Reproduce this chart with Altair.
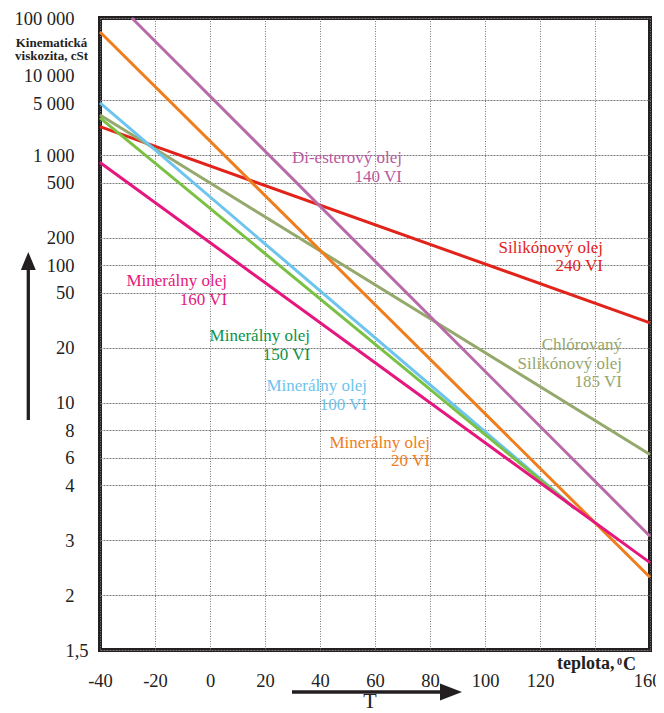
import altair as alt
import pandas as pd

# ---------------- data ----------------
series_names = [
    "Silikónový olej 240 VI",
    "Chlórovaný Silikónový olej 185 VI",
    "Di-esterový olej 140 VI",
    "Minerálny olej 20 VI",
    "Minerálny olej 100 VI",
    "Minerálny olej 150 VI",
    "Minerálny olej 160 VI",
]
series_colors = ["#e2231a", "#95a96c", "#b66aa8", "#f07d1c", "#6dc4ef", "#7ac143", "#e5177e"]
t_start = [-40, -40, -28.4, -40, -40, -40, -40]
v_start = [2320, 3270, 100000, 55600, 4650, 3000, 834]
t_end = [160, 160, 160, 160, 132.7, 132.7, 160]
v_end = [30.3, 6.2, 3.06, 2.28, 3.54, 3.54, 2.54]

label_texts = [
    "Silikónový olej\n240 VI",
    "Chlórovaný\nSilikónový olej\n185 VI",
    "Di-esterový olej\n140 VI",
    "Minerálny olej\n20 VI",
    "Minerálny olej\n100 VI",
    "Minerálny olej\n150 VI",
    "Minerálny olej\n160 VI",
]
label_t = [142.9, 149.8, 69.8, 80, 57.1, 36.4, 6.2]
label_v = [154.8, 20.9, 936, 7.0, 12.3, 24.3, 67.3]
label_colors = ["#e2231a", "#95a66b", "#b9579f", "#ef7d1b", "#6dc4ef", "#0e9247", "#e5177e"]

x_ticks = [-40, -20, 0, 20, 40, 60, 80, 100, 120, 140, 160]
x_tick_labels = ["-40", "-20", "0", "20", "40", "60", "80", "100", "120", "", "160"]
y_ticks = [100000, 10000, 5000, 1000, 500, 200, 100, 50, 20, 10, 8, 6, 4, 3, 2, 1.5]
y_tick_labels = ["100 000", "10 000", "5 000", "1 000", "500", "200", "100", "50",
                 "20", "10", "8", "6", "4", "3", "2", "1,5"]
y_slots = [0, 2, 3, 5, 6, 8, 9, 10, 12, 14, 15, 16, 17, 19, 21, 23]

# ---------------- layout ----------------
W, H = 550, 632
unit = H / 23.0
y_domain = list(reversed(y_ticks))
y_range = [s * unit for s in reversed(y_slots)]
FONT = "Liberation Serif"
DARK = "#231f20"


def label_expr(vals, labels):
    return "".join(f"datum.value == {v} ? '{l}' : " for v, l in zip(vals, labels)) + "''"


x_axis = alt.Axis(
    values=x_ticks, labelExpr=label_expr(x_ticks, x_tick_labels), title=None,
    grid=True, gridColor="#7a7a7a", gridDash=[1, 1.5], gridWidth=1,
    ticks=False, tickSize=0, domain=False, labelFlush=False, labelOverlap=False,
    labelFont=FONT, labelFontSize=18.5, labelColor="#222222", labelPadding=21,
    labelOffset={"condition": {"test": "datum.value == 160", "value": -3}, "value": 0},
)
y_axis = alt.Axis(
    values=y_ticks, labelExpr=label_expr(y_ticks, y_tick_labels),
    grid=True, gridColor="#7a7a7a", gridDash=[2, 1], gridWidth=1,
    gridOpacity={"condition": {"test": "datum.value == 10000", "value": 0}, "value": 1},
    ticks=False, tickSize=0, domain=False, labelFlush=False, labelOverlap=False,
    labelFont=FONT, labelFontSize=18.5, labelColor="#222222",
    labelBaseline="middle",
    labelPadding={"condition": {"test": "datum.value == 1.5", "value": 12}, "value": 26},
    labelOffset={"condition": {"test": "datum.value == 5000 || datum.value == 10000", "value": 3}, "value": 0},
    title=["Kinematická", "viskozita, cSt"], titleAngle=0, titleX=-49, titleY=24,
    titleAlign="center", titleBaseline="middle", titleFont=FONT, titleFontSize=13,
    titleFontWeight="bold", titleLineHeight=13, titleColor="#222222",
)

x_enc = alt.X("T:Q", scale=alt.Scale(domain=[-40, 160], nice=False, zero=False), axis=x_axis)
y_enc = alt.Y("v:Q", scale=alt.Scale(type="log", domain=y_domain, range=y_range, nice=False), axis=y_axis)

layers = []
for name, col, ts, vs, te, ve in zip(series_names, series_colors, t_start, v_start, t_end, v_end):
    df = pd.DataFrame({"series": [name, name], "T": [ts, te], "v": [vs, ve]})
    layers.append(
        alt.Chart(df).mark_line(color=col, strokeWidth=3).encode(x=x_enc, y=y_enc)
    )

labels_df = pd.DataFrame({"text": label_texts, "T": label_t, "v": label_v, "color": label_colors})
layers.append(
    alt.Chart(labels_df).mark_text(
        align="right", baseline="middle", font=FONT, fontSize=17, lineBreak="\n", lineHeight=18.5
    ).encode(x=x_enc, y=y_enc, text="text:N", color=alt.Color("color:N", scale=None))
)

one = pd.DataFrame({"k": [0]})
# vertical arrow
layers.append(alt.Chart(one).mark_rule(color=DARK, strokeWidth=3.3).encode(
    x=alt.value(-71.7), y=alt.value(252), y2=alt.value(402)))
layers.append(alt.Chart(one).mark_point(
    shape="M0,-1L0.83,1L-0.83,1Z", filled=True, size=324, color=DARK, opacity=1, strokeWidth=0
).encode(x=alt.value(-71.7), y=alt.value(243)))
# horizontal arrow
layers.append(alt.Chart(one).mark_rule(color=DARK, strokeWidth=3.3).encode(
    x=alt.value(192), x2=alt.value(343), y=alt.value(674)))
layers.append(alt.Chart(one).mark_point(
    shape="M-1,-0.77L1,0L-1,0.77Z", filled=True, size=484, color=DARK, opacity=1, strokeWidth=0
).encode(x=alt.value(351), y=alt.value(674)))
layers.append(alt.Chart(one).mark_text(
    text="T", font=FONT, fontSize=22, align="center", baseline="middle", color="#222222"
).encode(x=alt.value(270), y=alt.value(683)))
# x axis title "teplota, 0C"
layers.append(alt.Chart(one).mark_text(
    text="teplota,", font=FONT, fontSize=18, fontWeight="bold", align="left",
    baseline="alphabetic", color="#222222"
).encode(x=alt.value(457), y=alt.value(651)))
layers.append(alt.Chart(one).mark_text(
    text="0", font=FONT, fontSize=10, fontWeight="bold", align="left",
    baseline="alphabetic", color="#222222"
).encode(x=alt.value(517), y=alt.value(647)))
layers.append(alt.Chart(one).mark_text(
    text="C", font=FONT, fontSize=18, fontWeight="bold", align="left",
    baseline="alphabetic", color="#222222"
).encode(x=alt.value(523), y=alt.value(652)))

chart = alt.layer(*layers).properties(
    width=W, height=H,
    padding={"left": 92, "top": 10, "right": 6, "bottom": 60},
    autosize=alt.AutoSizeParams(type="none"),
    background="white",
).configure_view(stroke=DARK, strokeWidth=4)

chart.save("out.html", embed_options={"renderer": "svg", "actions": False})
